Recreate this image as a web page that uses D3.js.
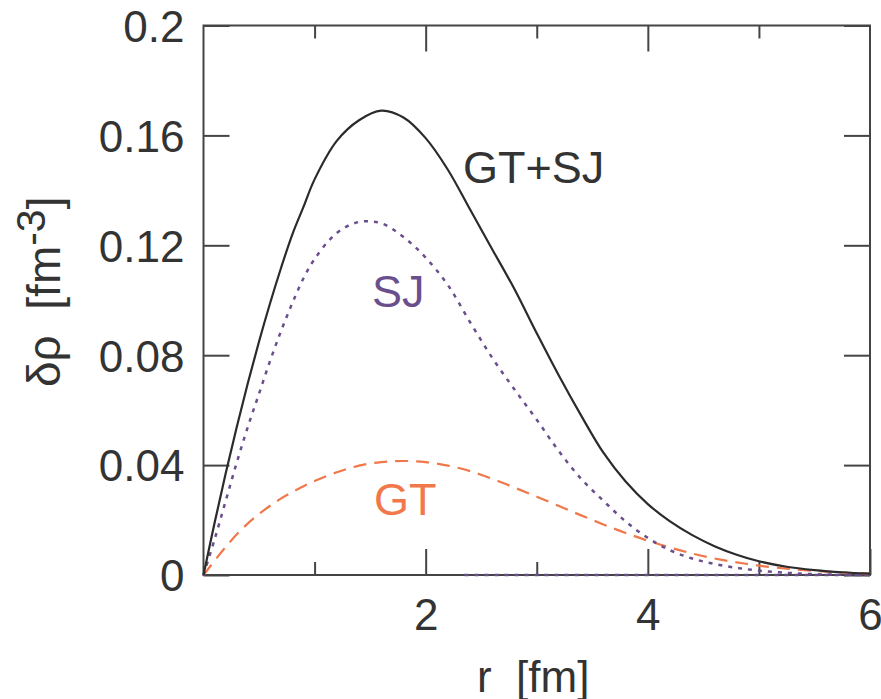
<!DOCTYPE html>
<html>
<head>
<meta charset="utf-8">
<script src="https://cdn.jsdelivr.net/npm/d3@7"></script>
<style>
  html, body { margin: 0; padding: 0; background: #ffffff; }
  svg { display: block; }
  text { font-family: "Liberation Sans", Arial, Helvetica, sans-serif; fill: #333333; }
</style>
</head>
<body>
<svg id="chart" width="881" height="699"></svg>
<script>
// Radial grid (fm) on which the densities are tabulated
const rValues = [0, 0.1, 0.2, 0.3, 0.4, 0.5, 0.6, 0.7, 0.8, 0.9, 1.0, 1.2, 1.4, 1.6, 1.8, 2.0, 2.2, 2.4, 2.6, 2.8,
                 3.0, 3.2, 3.4, 3.6, 3.8, 4.0, 4.2, 4.4, 4.6, 4.8, 5.0, 5.25, 5.5, 5.75, 6.0];

// Density change δρ (fm^-3) for each contribution
const totalValues = [0, 0.019, 0.037, 0.054, 0.070, 0.085, 0.099, 0.112, 0.124, 0.134, 0.144, 0.158, 0.1655,
                     0.169, 0.1665, 0.159, 0.1475, 0.133, 0.1185, 0.104, 0.088, 0.0725, 0.058, 0.0445, 0.034,
                     0.0258, 0.0195, 0.0145, 0.0105, 0.0074, 0.005, 0.003, 0.0018, 0.001, 0.0005];
const sjValues = [0, 0.013, 0.027, 0.041, 0.054, 0.066, 0.078, 0.089, 0.099, 0.108, 0.115, 0.1245, 0.1285,
                  0.128, 0.123, 0.1155, 0.1055, 0.092, 0.079, 0.0675, 0.0565, 0.045, 0.035, 0.027, 0.0195,
                  0.0135, 0.009, 0.006, 0.004, 0.0026, 0.0016, 0.0008, 0.0003, 0.0001, 0];
const gtValues = [0, 0.0052, 0.0102, 0.0148, 0.0188, 0.0222, 0.0252, 0.0279, 0.0302, 0.0323, 0.0342, 0.0374,
                  0.0398, 0.0411, 0.0415, 0.0411, 0.0398, 0.0378, 0.0350, 0.0318, 0.0285, 0.0251, 0.0217,
                  0.0184, 0.0153, 0.0125, 0.0100, 0.0078, 0.0060, 0.0046, 0.0034, 0.0023, 0.0015, 0.0009, 0.0005];

// Flat SJ segment drawn along the baseline
const sjBaseR = [2.35, 6.0];
const sjBaseValues = [0, 0];

// Axis ticks
const xMajorTicks = [2, 4, 6];
const xMinorTicks = [1, 3, 5];
const xTickLabels = ["2", "4", "6"];
const yTicks = [0, 0.04, 0.08, 0.12, 0.16, 0.2];
const yTickLabels = ["0", "0.04", "0.08", "0.12", "0.16", "0.2"];

const colors = { total: "#2b2b2b", sj: "#6a4f8d", gt: "#f0784a", axis: "#444444" };

const svg = d3.select("#chart");
const x = d3.scaleLinear().domain([0, 6]).range([203.5, 870]);
const y = d3.scaleLinear().domain([0, 0.2]).range([575, 25.5]);

const majorLen = 26, minorLen = 13;
const fs = 44;

function styleAxis(g) {
  g.select(".domain").remove();
  g.selectAll(".tick line").attr("stroke", colors.axis).attr("stroke-width", 2);
}

// Bottom axis: major ticks with labels, minor ticks without
svg.append("g").attr("transform", `translate(0,${y(0)})`)
  .call(d3.axisBottom(x).tickValues(xMajorTicks).tickSize(-majorLen).tickPadding(0)
        .tickFormat((d, i) => xTickLabels[i]))
  .call(styleAxis)
  .call(g => g.selectAll(".tick text").attr("y", 55).attr("dy", 0)
        .style("font-size", fs + "px").attr("fill", "#333"));
svg.append("g").attr("transform", `translate(0,${y(0)})`)
  .call(d3.axisBottom(x).tickValues(xMinorTicks).tickSize(-minorLen).tickFormat(""))
  .call(styleAxis);

// Top axis: ticks pointing inward
svg.append("g").attr("transform", `translate(0,${y(0.2)})`)
  .call(d3.axisTop(x).tickValues([2, 4]).tickSize(-majorLen).tickFormat(""))
  .call(styleAxis);
svg.append("g").attr("transform", `translate(0,${y(0.2)})`)
  .call(d3.axisTop(x).tickValues(xMinorTicks).tickSize(-minorLen).tickFormat(""))
  .call(styleAxis);

// Left axis with labels
svg.append("g").attr("transform", `translate(${x(0)},0)`)
  .call(d3.axisLeft(y).tickValues(yTicks).tickSize(-majorLen).tickPadding(19)
        .tickFormat((d, i) => yTickLabels[i]))
  .call(styleAxis)
  .call(g => g.selectAll(".tick text").attr("x", -19).attr("dy", "0.36em")
        .style("font-size", fs + "px").attr("fill", "#333"));

// Right axis: ticks only
svg.append("g").attr("transform", `translate(${x(6)},0)`)
  .call(d3.axisRight(y).tickValues(yTicks).tickSize(-majorLen).tickFormat(""))
  .call(styleAxis);

// Frame
svg.append("rect")
  .attr("x", x(0)).attr("y", y(0.2))
  .attr("width", x(6) - x(0)).attr("height", y(0) - y(0.2))
  .attr("fill", "none").attr("stroke", colors.axis).attr("stroke-width", 2);

// Curves
const line = d3.line().x(d => x(d[0])).y(d => y(d[1])).curve(d3.curveCatmullRom.alpha(0.5));
const zip = (rs, vs) => rs.map((r, i) => [r, vs[i]]);

svg.append("path").datum(zip(sjBaseR, sjBaseValues))
  .attr("d", line).attr("fill", "none").attr("stroke", colors.sj)
  .attr("stroke-width", 2.5).attr("stroke-dasharray", "4,6");

svg.append("path").datum(zip(rValues, gtValues))
  .attr("d", line).attr("fill", "none").attr("stroke", colors.gt)
  .attr("stroke-width", 2.2).attr("stroke-dasharray", "13,8");

svg.append("path").datum(zip(rValues, sjValues))
  .attr("d", line).attr("fill", "none").attr("stroke", colors.sj)
  .attr("stroke-width", 2.5).attr("stroke-dasharray", "4,6");

svg.append("path").datum(zip(rValues, totalValues))
  .attr("d", line).attr("fill", "none").attr("stroke", colors.total)
  .attr("stroke-width", 2.2);

// Curve labels
svg.append("text").attr("x", 463).attr("y", 183).style("font-size", "45px")
  .attr("fill", "#333").text("GT+SJ");
svg.append("text").attr("x", 372).attr("y", 307).style("font-size", "45px")
  .style("fill", colors.sj).text("SJ");
svg.append("text").attr("x", 374).attr("y", 515).style("font-size", "45px")
  .style("fill", colors.gt).text("GT");

// Axis titles
svg.append("text").attr("x", 477).attr("y", 692).style("font-size", fs + "px")
  .style("white-space", "pre").text("r  [fm]");

const yTitle = svg.append("text")
  .attr("transform", "translate(60,387) rotate(-90)")
  .style("font-size", "46px").style("white-space", "pre");
yTitle.append("tspan").text("δρ  [fm");
yTitle.append("tspan").attr("dy", -15).style("font-size", "41px").text("-3");
yTitle.append("tspan").attr("dy", 15).text("]");
</script>
</body>
</html>
